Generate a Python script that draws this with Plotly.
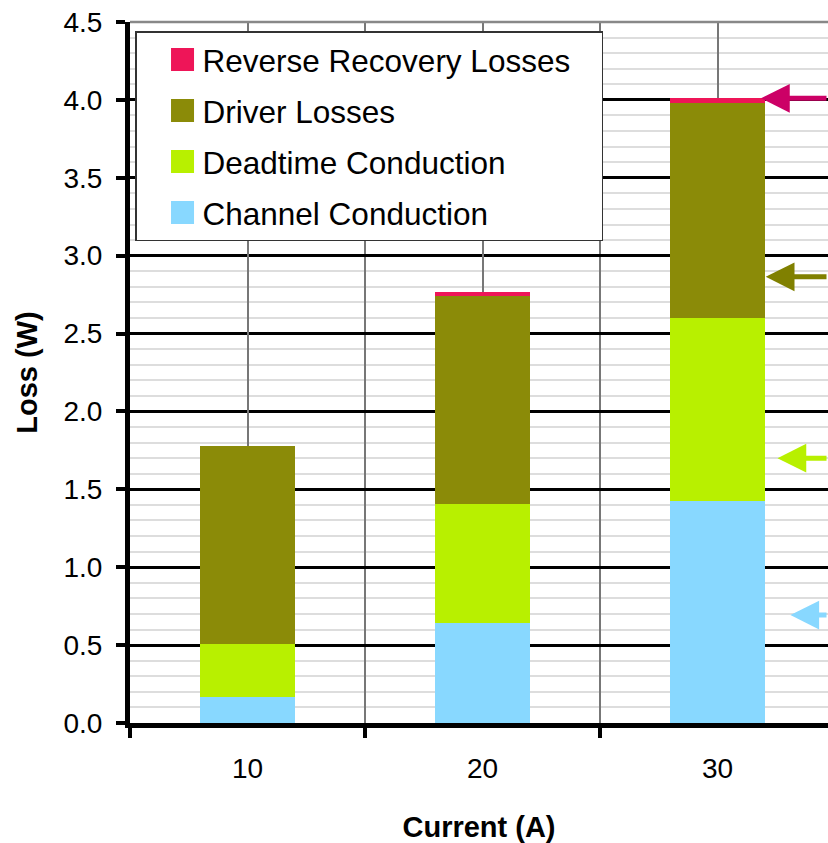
import plotly.graph_objects as go

# Loss breakdown per load current (stacked)
currents = ["10", "20", "30"]
channel_conduction = [0.167, 0.642, 1.425]
deadtime_conduction = [0.340, 0.764, 1.175]
driver_losses = [1.271, 1.336, 1.380]
reverse_recovery = [0.0, 0.025, 0.033]

# Marker arrows on the right-hand side (level each arrow points at)
arrow_levels = [4.01, 2.864, 1.70, 0.693]
arrow_x = [2.185, 2.205, 2.255, 2.31]
arrow_colors = ["#CC0066", "#808000", "#B8F000", "#88D8FF"]

xpos = list(range(len(currents)))
boundaries = [-0.5, 0.5, 1.5]
xrange = [-0.5, 2.47]
font_family = "Liberation Sans, Arial, sans-serif"

# trailing non-breaking spaces widen the legend box on the right
series = [
    ("Channel Conduction", channel_conduction, "#88D8FF", 4),
    ("Deadtime Conduction", deadtime_conduction, "#B8F000", 3),
    ("Driver Losses", driver_losses, "#8B8B08", 2),
    ("Reverse Recovery Losses\u00a0\u00a0\u00a0", reverse_recovery, "#EE1558", 1),
]

fig = go.Figure()
for i, (name, vals, color, rank) in enumerate(series):
    fig.add_trace(go.Bar(
        x=xpos, y=vals, name=name, width=0.404,
        marker=dict(color=color, line=dict(width=0)),
        legendgroup="g%d" % i, legendrank=rank,
    ))

# empty helper trace so the label axis (x2) is rendered
fig.add_trace(go.Scatter(x=[xpos[0]], y=[0], xaxis="x2", yaxis="y", mode="markers",
                         marker=dict(opacity=0), showlegend=False, hoverinfo="skip"))

for lvl, xa, col in zip(arrow_levels, arrow_x, arrow_colors):
    fig.add_annotation(
        x=xa, y=lvl, xref="x", yref="y", text="", showarrow=True,
        ax=120, ay=0, arrowhead=2, arrowsize=1.15, arrowwidth=5,
        arrowcolor=col,
    )

# gray frame line along the top of the plot area
fig.add_shape(type="line", xref="paper", yref="paper", x0=0, x1=1, y0=1, y1=1,
              line=dict(color="#888888", width=2.5), layer="above")

fig.update_layout(
    width=828, height=843,
    margin=dict(l=130, r=0, t=22, b=120),
    paper_bgcolor="white", plot_bgcolor="white",
    barmode="stack", bargap=0,
    font=dict(family=font_family, size=28, color="black"),
    legend=dict(
        x=0.0072, y=0.987, xanchor="left", yanchor="top",
        bgcolor="white", bordercolor="#333333", borderwidth=1.5,
        font=dict(size=31.5, family=font_family),
        traceorder="grouped", tracegroupgap=7, indentation=26,
    ),
    showlegend=True,
    # boundary ticks / gridlines between current groups
    xaxis=dict(
        range=xrange, tickmode="array", tickvals=boundaries, showticklabels=False,
        ticks="outside", ticklen=10, tickwidth=4, tickcolor="black",
        showgrid=True, gridcolor="#777777", gridwidth=1.5,
        showline=True, linecolor="black", linewidth=5, zeroline=False,
        title=dict(text="<b>Current (A)</b>", font=dict(size=29), standoff=83),
    ),
    # category labels and center gridlines
    xaxis2=dict(
        range=xrange, overlaying="x", anchor="y", side="bottom",
        tickmode="array", tickvals=xpos, ticktext=currents, ticks="",
        showgrid=True, gridcolor="#777777", gridwidth=1.5,
        showline=False, zeroline=False, tickfont=dict(size=28),
        ticklabelstandoff=26,
    ),
    yaxis=dict(
        range=[0, 4.5], dtick=0.5, tickformat=".1f",
        showgrid=True, gridcolor="black", gridwidth=3,
        ticks="outside", ticklen=9, tickwidth=4, tickcolor="black",
        showline=True, linecolor="black", linewidth=5, zeroline=False,
        tickfont=dict(size=28), ticklabelstandoff=8,
        minor=dict(dtick=0.1, showgrid=True, gridcolor="#dddddd", gridwidth=1.5, ticks=""),
        title=dict(text="<b>Loss (W)</b>", font=dict(size=29), standoff=19),
    ),
)

post = """
var gd = document.getElementById('{plot_id}');
function bigSwatches() {
  gd.querySelectorAll('g.legendpoints path').forEach(function (p) {
    p.setAttribute('d', 'M11.5,11.5H-11.5V-11.5H11.5Z');
  });
}
bigSwatches();
gd.on('plotly_afterplot', bigSwatches);
[50, 200, 600].forEach(function (t) { setTimeout(bigSwatches, t); });
"""

fig.write_html("out.html", post_script=post)
